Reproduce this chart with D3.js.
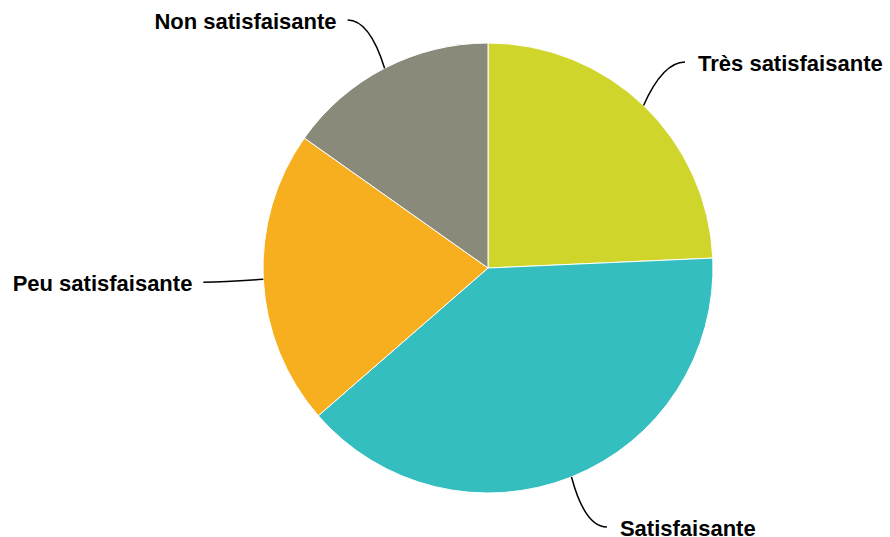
<!DOCTYPE html>
<html>
<head>
<meta charset="utf-8">
<script src="https://cdn.jsdelivr.net/npm/d3@7"></script>
<style>
  html, body { margin: 0; padding: 0; background: #fff; }
  svg { display: block; font-family: "Liberation Sans", Arial, sans-serif; }
</style>
</head>
<body>
<svg id="chart" width="890" height="537"></svg>
<script>
const categories = ["Très satisfaisante", "Satisfaisante", "Peu satisfaisante", "Non satisfaisante"];
const values = [24.3, 39.3, 21.2, 15.2];
const colors = ["#cfd52a", "#34bec0", "#f7af1f", "#898a7a"];

const width = 890, height = 537;
const cx = 488, cy = 268, radius = 225;
const labelRadius = radius + 60;

const svg = d3.select("#chart");
const g = svg.append("g").attr("transform", `translate(${cx},${cy})`);

const data = categories.map((name, i) => ({ name, value: values[i], color: colors[i] }));

const pie = d3.pie().value((d) => d.value).sort(null);
const arcs = pie(data);
const arc = d3.arc().innerRadius(0).outerRadius(radius);

g.selectAll("path.slice")
  .data(arcs)
  .join("path")
  .attr("class", "slice")
  .attr("d", arc)
  .attr("fill", (d) => d.data.color)
  .attr("stroke", "#ffffff")
  .attr("stroke-width", 1)
  .attr("stroke-linejoin", "round");

function polar(r, a) {
  return [r * Math.sin(a), -r * Math.cos(a)];
}

arcs.forEach((d) => {
  const mid = (d.startAngle + d.endAngle) / 2;
  const right = Math.sin(mid) >= 0;
  const start = polar(radius, mid);
  // label y from the angle, kept inside the plot, x back on the label circle
  let ey = polar(labelRadius, mid)[1];
  ey = Math.max(20 - cy, Math.min(height - 10 - cy, ey));
  const ex = (right ? 1 : -1) * Math.sqrt(labelRadius * labelRadius - ey * ey);
  const end = [ex, ey];
  const ctrl = [end[0] + (right ? -22 : 22), end[1]];

  g.append("path")
    .attr("d", `M${start[0]},${start[1]} Q${ctrl[0]},${ctrl[1]} ${end[0]},${end[1]}`)
    .attr("fill", "none")
    .attr("stroke", "#000")
    .attr("stroke-width", 1.5);

  g.append("text")
    .attr("x", end[0] + (right ? 13 : -11))
    .attr("y", end[1])
    .attr("dy", "0.4em")
    .attr("text-anchor", right ? "start" : "end")
    .attr("font-size", 22)
    .attr("font-weight", "bold")
    .attr("fill", "#000")
    .text(d.data.name);
});
</script>
</body>
</html>
